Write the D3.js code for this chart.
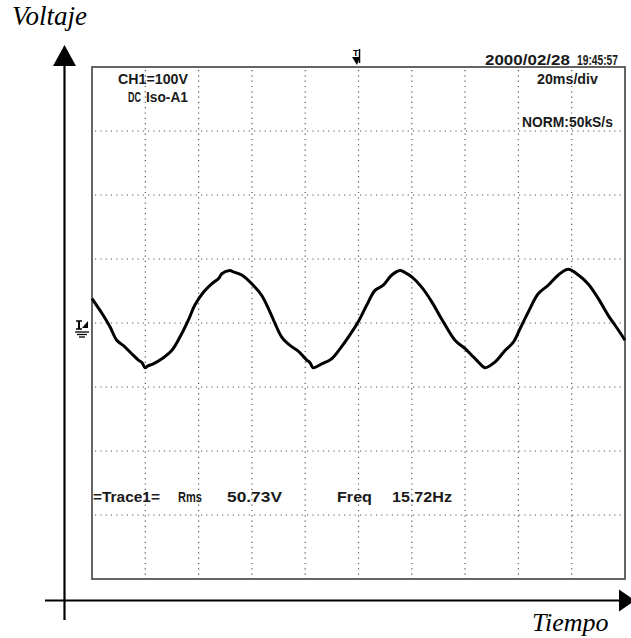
<!DOCTYPE html>
<html>
<head>
<meta charset="utf-8">
<script src="https://cdn.jsdelivr.net/npm/d3@7"></script>
<style>
  html, body { margin: 0; padding: 0; background: #fff; }
  svg { display: block; }
</style>
</head>
<body>
<div id="chart"></div>
<script>
// trace: time in ms (20 ms/div), voltage in V (100 V/div)
const traceTime = [0, 4.2, 6.75, 9.3, 11.7, 14.9, 17.4, 18.8, 19.9, 21.0, 23.0, 26.2, 29.9, 33.0, 36.1, 38.6,
  41.8, 44.9, 47.6, 48.7, 51.8, 53.0, 56.2, 60.5, 63.7, 66.8, 68.7, 71.2, 74.3, 77.4, 80.6, 81.8, 83.0, 86.2,
  89.9, 93.1, 96.2, 99.9, 103.1, 106.2, 109.3, 112.5, 115.6, 117.0, 120.0, 123.7, 127.5, 131.8, 136.2, 140.0,
  143.1, 145.0, 147.5, 151.2, 155.0, 158.1, 160.6, 163.7, 167.5, 171.2, 175.0, 178.7, 182.5, 186.2, 190.0,
  193.7, 197.5, 200];
const traceVolt = [38, 12, -6, -27, -35, -48, -58, -62, -70, -67, -64, -56, -43, -22, 4, 28,
  48, 61, 70, 77, 82, 80, 75, 59, 43, 17, -1, -22, -35, -44, -58, -62, -70, -64,
  -56, -40, -22, 2, 28, 51, 59, 75, 82, 80, 72, 56, 33, 2, -27, -40,
  -53, -61, -70, -61, -43, -30, -9, 17, 46, 59, 75, 84, 75, 61, 38,
  12, -11, -27];

const timeTicks = d3.range(0, 201, 20);     // 10 div
const voltTicks = d3.range(-400, 401, 100); // 8 div

const headerLeft = ["CH1=100V", "DC", "Iso-A1"];
const headerRight = ["2000/02/28", "19:45:57", "20ms/div", "NORM:50kS/s"];
const footer = ["=Trace1=", "Rms", "50.73V", "Freq", "15.72Hz"];

const W = 631, H = 638;
const box = { left: 92, right: 625, top: 67, bottom: 579 };

const svg = d3.select('#chart').append('svg')
  .attr('width', W).attr('height', H);

const x = d3.scaleLinear().domain([0, 200]).range([box.left, box.right]);
const y = d3.scaleLinear().domain([-400, 400]).range([box.bottom, box.top]);

// dotted grid
const grid = svg.append('g')
  .attr('stroke', '#555')
  .attr('stroke-width', 1.2)
  .attr('stroke-dasharray', '1.2,4.1');
grid.selectAll('.vg').data(timeTicks.slice(1, -1)).enter().append('line')
  .attr('x1', d => x(d)).attr('x2', d => x(d))
  .attr('y1', box.top + 3).attr('y2', box.bottom);
grid.selectAll('.hg').data(voltTicks.slice(1, -1)).enter().append('line')
  .attr('x1', box.left + 3).attr('x2', box.right)
  .attr('y1', d => y(d)).attr('y2', d => y(d));

// screen frame
svg.append('rect')
  .attr('x', box.left).attr('y', box.top)
  .attr('width', box.right - box.left).attr('height', box.bottom - box.top)
  .attr('fill', 'none').attr('stroke', '#555').attr('stroke-width', 1.8);

// the waveform
const line = d3.line().x((d, i) => x(traceTime[i])).y(d => y(d)).curve(d3.curveCatmullRom);
svg.append('path')
  .attr('d', line(traceVolt))
  .attr('fill', 'none')
  .attr('stroke', '#000')
  .attr('stroke-width', 3)
  .attr('stroke-linejoin', 'round');

// scope text: stretched horizontally only, so the glyph height stays the same
const scopeFont = "'Liberation Sans','Arial',sans-serif";
function scopeText(str, x0, x1, base) {
  const t = svg.append('text')
    .attr('x', 0).attr('y', 0)
    .style('font-family', scopeFont)
    .style('font-size', '14px')
    .style('font-weight', 'bold')
    .attr('fill', '#1a1a1a')
    .text(str);
  const w = t.node().getComputedTextLength();
  t.attr('transform', `translate(${x0},${base}) scale(${(x1 - x0) / w},1)`);
}
scopeText(headerLeft[0], 118, 188, 84);
scopeText(headerLeft[1], 128, 141, 101.5);
scopeText(headerLeft[2], 146, 188, 101.5);
scopeText(headerRight[0], 485, 570, 65);
scopeText(headerRight[1], 577, 618, 65);
scopeText(headerRight[2], 537, 598, 83.5);
scopeText(headerRight[3], 522, 613, 126.5);
scopeText(footer[0], 93, 160, 502);
scopeText(footer[1], 178, 202, 502);
scopeText(footer[2], 227, 282, 502);
scopeText(footer[3], 337, 372, 502);
scopeText(footer[4], 392, 452, 502);

// trigger marker
const tx = x(100) - 1.5;
svg.append('text').attr('x', tx - 4).attr('y', 56)
  .style('font-family', scopeFont).style('font-size', '9px').style('font-weight', 'bold')
  .text('T');
svg.append('path')
  .attr('d', `M${tx - 5},57 L${tx + 3},57 L${tx},65 Z`)
  .attr('fill', '#000');
svg.append('line')
  .attr('x1', tx + 2.5).attr('x2', tx + 2.5).attr('y1', 49).attr('y2', 63)
  .attr('stroke', '#000').attr('stroke-width', 1.5);

// ground / channel marker at 0 V
const gy = y(0);
svg.append('line').attr('x1', 76).attr('x2', 82).attr('y1', gy - 2).attr('y2', gy - 2)
  .attr('stroke', '#000').attr('stroke-width', 1.5);
svg.append('line').attr('x1', 79).attr('x2', 79).attr('y1', gy - 2).attr('y2', gy + 6)
  .attr('stroke', '#000').attr('stroke-width', 2);
svg.append('line').attr('x1', 76).attr('x2', 82).attr('y1', gy + 6).attr('y2', gy + 6)
  .attr('stroke', '#000').attr('stroke-width', 1.5);
svg.append('path')
  .attr('d', `M82,${gy + 5} L88,${gy - 2} L88,${gy + 5} Z`)
  .attr('fill', '#000');
[[75, 89, 9], [77, 87, 11.5], [79, 85, 14]].forEach(([a, b, dy]) => {
  svg.append('line').attr('x1', a).attr('x2', b)
    .attr('y1', gy + dy).attr('y2', gy + dy)
    .attr('stroke', '#000').attr('stroke-width', 1.3);
});

// outer axes with arrows
const axisG = svg.append('g');
axisG.append('line')
  .attr('x1', 64.5).attr('x2', 64.5).attr('y1', 60).attr('y2', 620)
  .attr('stroke', '#000').attr('stroke-width', 2.2);
axisG.append('path')
  .attr('d', 'M64.5,45 L76,66 L53,66 Z').attr('fill', '#000');
axisG.append('line')
  .attr('x1', 45).attr('x2', 622).attr('y1', 600.5).attr('y2', 600.5)
  .attr('stroke', '#000').attr('stroke-width', 2.2);
axisG.append('path')
  .attr('d', 'M635,600.5 L619,589.5 L619,611.5 Z').attr('fill', '#000');

// axis titles
const titleFont = "'Liberation Serif','Times New Roman',serif";
svg.append('text').attr('x', 12).attr('y', 25)
  .style('font-family', titleFont).style('font-style', 'italic').style('font-size', '27px')
  .text('Voltaje');
svg.append('text').attr('x', 532).attr('y', 631)
  .style('font-family', titleFont).style('font-style', 'italic').style('font-size', '26px')
  .text('Tiempo');
</script>
</body>
</html>
